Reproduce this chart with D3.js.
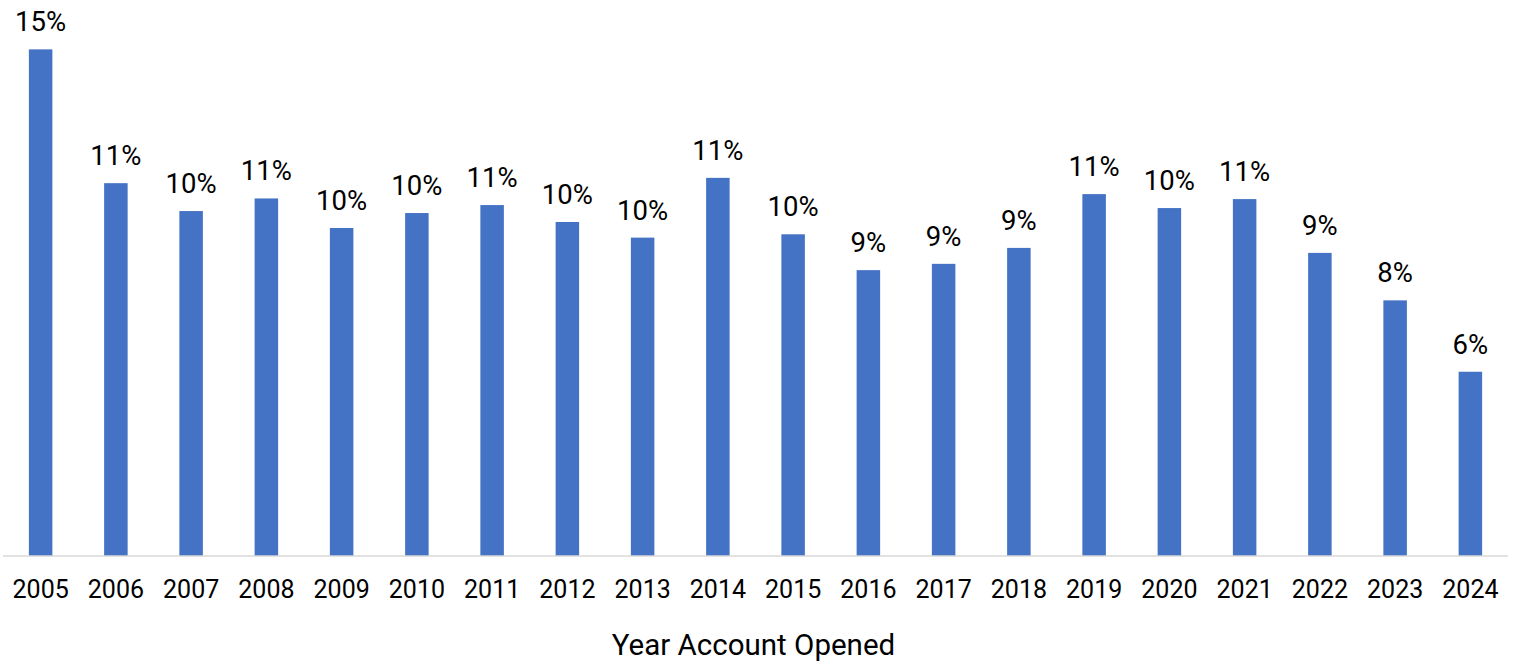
<!DOCTYPE html>
<html>
<head>
<meta charset="utf-8">
<script src="https://cdn.jsdelivr.net/npm/d3@7"></script>
<style>
  body { margin: 0; background: #fff; }
  text { font-family: Roboto, "Noto Sans", sans-serif; fill: #000; }
</style>
</head>
<body>
<svg id="chart"></svg>
<script>
// share of accounts by year opened (percent)
const years = ["2005", "2006", "2007", "2008", "2009", "2010", "2011", "2012", "2013", "2014",
               "2015", "2016", "2017", "2018", "2019", "2020", "2021", "2022", "2023", "2024"];
const shares = [15.26, 11.23, 10.39, 10.77, 9.88, 10.33, 10.57, 10.06, 9.59, 11.39,
                9.69, 8.61, 8.80, 9.28, 10.90, 10.48, 10.75, 9.13, 7.70, 5.55];
const axisTitle = "Year Account Opened";

const width = 1517, height = 665;
const left = 3, right = 1508, baseline = 556;

let svg = d3.select("#chart")
    .attr("width", width)
    .attr("height", height);

let x = d3.scaleBand()
    .domain(years)
    .range([left, right])
    .paddingInner(0.6877)
    .paddingOuter(0.6877 / 2);

let y = d3.scaleLinear()
    .domain([0, 16])
    .range([baseline, baseline - 16 * 33.2]);

let fmt = d3.format(".0%");

// bars
svg.selectAll(".bar")
    .data(years)
    .enter()
    .append("rect")
        .classed("bar", true)
        .attr("x", d => x(d))
        .attr("width", x.bandwidth())
        .attr("y", (d, i) => y(shares[i]))
        .attr("height", (d, i) => y(0) - y(shares[i]))
        .attr("fill", "#4472C4");

// value labels
svg.selectAll(".val")
    .data(years)
    .enter()
    .append("text")
        .classed("val", true)
        .attr("x", d => x(d) + x.bandwidth() / 2)
        .attr("y", (d, i) => y(shares[i]) - 18)
        .attr("text-anchor", "middle")
        .attr("font-size", "27.5px")
        .text((d, i) => fmt(shares[i] / 100));

// x axis
let xAxis = svg.append("g")
    .attr("transform", `translate(0,${baseline})`)
    .call(d3.axisBottom(x).tickSize(0).tickPadding(0));

xAxis.select(".domain")
    .attr("stroke", "#D9D9D9")
    .attr("stroke-width", 1.5)
    .attr("d", `M${left},0H${right}`);

xAxis.selectAll(".tick text")
    .attr("dy", null)
    .attr("y", 41.5)
    .attr("font-size", "25px")
    .attr("font-family", "Roboto, sans-serif")
    .attr("fill", "#000");

// axis title
svg.append("text")
    .attr("x", (left + right) / 2 - 2)
    .attr("y", 655)
    .attr("text-anchor", "middle")
    .attr("font-size", "29.5px")
    .text(axisTitle);
</script>
</body>
</html>
